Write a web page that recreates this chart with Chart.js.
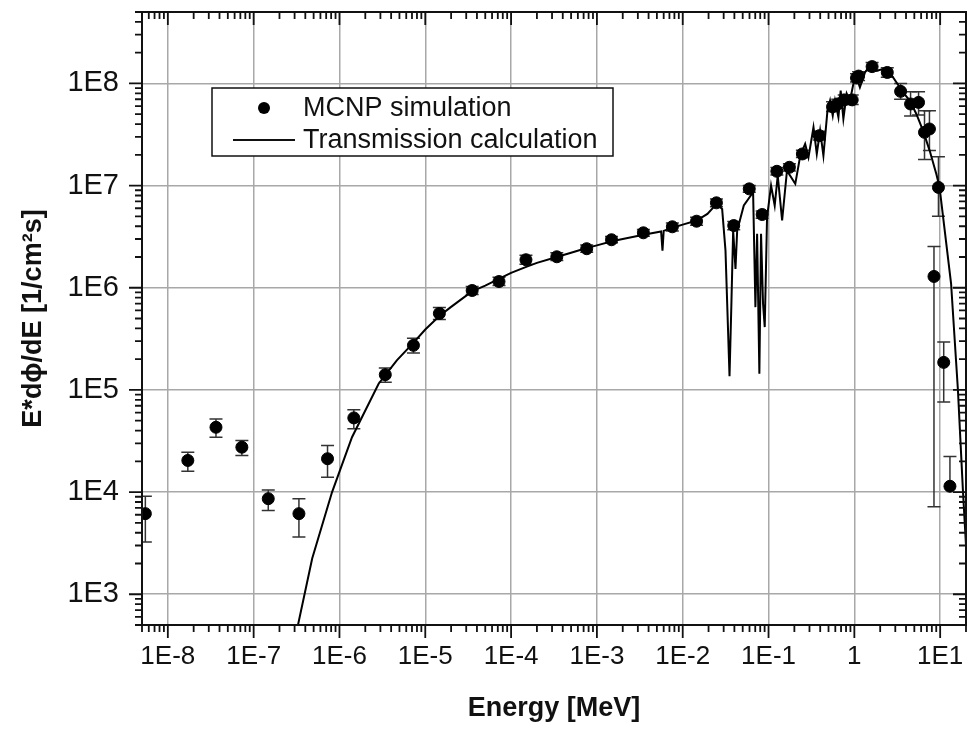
<!DOCTYPE html>
<html>
<head>
<meta charset="utf-8">
<script src="https://cdn.jsdelivr.net/npm/chart.js@4.4.0/dist/chart.umd.min.js"></script>
<style>
  body { margin: 0; background: #fff; }
  #wrap { width: 973px; height: 729px; }
</style>
</head>
<body>
<div id="wrap"><canvas id="chart" width="973" height="729"></canvas></div>
<script>
// MCNP simulation (energy in MeV, E*dphi/dE in 1/cm2s, error bar limits)
const mcnpEnergy = [5.47e-9, 1.71e-8, 3.64e-8, 7.29e-8, 1.48e-7, 3.37e-7, 7.26e-7, 1.47e-6, 3.42e-6,
  7.28e-6, 1.46e-5, 3.52e-5, 7.23e-5, 1.49e-4, 3.41e-4, 7.6e-4, 1.48e-3, 3.48e-3, 7.57e-3,
  1.45e-2, 2.47e-2, 3.93e-2, 5.96e-2, 8.43e-2, 0.125, 0.175, 0.248, 0.391, 0.557, 0.64, 0.762,
  0.944, 1.06, 1.12, 1.61, 2.42, 3.46, 4.52, 5.6, 6.57, 7.5, 8.47, 9.55, 11.0, 13.0];
const mcnpFlux = [6.15e3, 2.04e4, 4.31e4, 2.75e4, 8.62e3, 6.15e3, 2.12e4, 5.32e4, 1.41e5,
  2.73e5, 5.6e5, 9.4e5, 1.15e6, 1.88e6, 2.01e6, 2.41e6, 2.95e6, 3.45e6, 3.95e6,
  4.48e6, 6.78e6, 4.06e6, 9.29e6, 5.21e6, 1.38e7, 1.51e7, 2.04e7, 3.08e7, 5.9e7, 6.3e7, 6.9e7,
  6.9e7, 1.13e8, 1.18e8, 1.46e8, 1.28e8, 8.36e7, 6.29e7, 6.52e7, 3.32e7, 3.58e7, 1.29e6, 9.6e6, 1.86e5, 1.14e4];
const mcnpLow = [3.25e3, 1.6e4, 3.44e4, 2.28e4, 6.6e3, 3.64e3, 1.4e4, 4.16e4, 1.19e5,
  2.3e5, 4.9e5, 8.6e5, 1.05e6, 1.7e6, 1.85e6, 2.22e6, 2.75e6, 3.2e6, 3.6e6,
  4.1e6, 6.2e6, 3.7e6, 8.6e6, 4.8e6, 1.27e7, 1.39e7, 1.88e7, 2.8e7, 5.3e7, 5.7e7, 6.2e7,
  6.2e7, 1.03e8, 1.07e8, 1.33e8, 1.15e8, 7.0e7, 4.8e7, 4.9e7, 1.8e7, 2.2e7, 7.2e3, 5.0e6, 7.6e4, 1.14e4];
const mcnpHigh = [9.1e3, 2.46e4, 5.2e4, 3.19e4, 1.05e4, 8.6e3, 2.86e4, 6.4e4, 1.64e5,
  3.2e5, 6.4e5, 1.03e6, 1.27e6, 2.08e6, 2.2e6, 2.62e6, 3.18e6, 3.72e6, 4.3e6,
  4.9e6, 7.4e6, 4.45e6, 1.0e7, 5.65e6, 1.5e7, 1.64e7, 2.22e7, 3.4e7, 6.6e7, 7.0e7, 7.7e7,
  7.7e7, 1.24e8, 1.3e8, 1.6e8, 1.42e8, 1.0e8, 8.3e7, 8.3e7, 5.4e7, 5.4e7, 2.54e6, 1.92e7, 2.94e5, 2.23e4];

// Transmission calculation curve
const calcEnergy = [3.0e-7, 4.81e-7, 8.2e-7, 1.4e-6, 2.86e-6, 4.66e-6, 7.3e-6, 1e-5, 1.46e-5, 2e-5,
  3.5e-5, 5e-5, 7.2e-5, 1e-4, 1.5e-4, 2e-4, 3.4e-4, 5e-4, 7.6e-4, 1e-3, 1.5e-3, 2e-3, 3.5e-3,
  5.6e-3, 5.81e-3, 6.0e-3, 7.4e-3, 1.0e-2, 1.45e-2, 1.94e-2, 2.48e-2, 2.88e-2, 3.15e-2, 3.51e-2,
  3.7e-2, 3.87e-2, 4.12e-2, 4.31e-2, 5.15e-2, 6.61e-2, 7.03e-2, 7.36e-2, 7.82e-2, 8.18e-2,
  8.63e-2, 9.03e-2, 9.61e-2, 0.107, 0.118, 0.128, 0.144, 0.164, 0.205, 0.234, 0.267, 0.292,
  0.334, 0.365, 0.399, 0.436, 0.486, 0.521, 0.56, 0.595, 0.652, 0.693, 0.745, 0.814, 0.889,
  0.973, 1.06, 1.16, 1.33, 1.52, 1.66, 1.81, 2.17, 2.59, 3.1, 3.7, 4.42, 5.28, 6.31, 7.54,
  9.02, 9.84, 13.4, 16.1, 18.4, 20];
const calcFlux = [350, 2.24e3, 1.0e4, 3.44e4, 1.15e5, 1.95e5, 2.9e5, 3.9e5, 5.3e5, 6.5e5,
  9.2e5, 1.05e6, 1.22e6, 1.4e6, 1.6e6, 1.75e6, 2.0e6, 2.2e6, 2.45e6, 2.6e6, 2.85e6, 3.0e6, 3.3e6,
  3.55e6, 2.31e6, 3.6e6, 3.85e6, 4.15e6, 4.55e6, 5.28e6, 6.62e6, 5.91e6, 2.32e6, 1.36e5,
  7.52e5, 3.63e6, 1.53e6, 3.63e6, 6.38e6, 8.6e6, 6.46e5, 3.37e6, 1.44e5, 3.37e6,
  6.98e5, 4.12e5, 4.9e6, 1.0e7, 6.38e6, 1.25e7, 4.55e6, 1.4e7, 1.04e7, 1.96e7, 2.56e7, 1.89e7,
  3.72e7, 2.04e7, 3.45e7, 1.96e7, 5.41e7, 6.78e7, 4.83e7, 6.78e7, 4.66e7, 8.49e7, 4.49e7, 7.94e7, 6.78e7,
  9.86e7, 1.15e8, 9.14e7, 1.28e8, 1.49e8, 1.6e8, 1.33e8, 1.38e8, 1.28e8, 1.02e8, 8.17e7, 6.78e7, 5.02e7, 3.45e7, 2.2e7,
  1.3e7, 9.6e6, 1.1e6, 1.0e5, 1.05e4, 3.0e3];

const xMin = 5e-9, xMax = 20;
const yMin = 500, yMax = 5e8;

const FONT = '"Liberation Sans", Arial, sans-serif';

// log ticks at every 1..9 x 10^n, labels only at decades
function logTicks(scale) {
  const ticks = [];
  const lo = Math.floor(Math.log10(scale.min));
  const hi = Math.ceil(Math.log10(scale.max));
  for (let e = lo; e <= hi; e++) {
    for (let m = 1; m <= 9; m++) {
      const v = Number(m + 'e' + e);
      if (v >= scale.min && v <= scale.max) ticks.push({ value: v, major: m === 1 });
    }
  }
  scale.ticks = ticks;
}

function decadeLabel(value, index, ticks) {
  if (!ticks[index].major) return '';
  const e = Math.round(Math.log10(value));
  return e === 0 ? '1' : '1E' + e;
}

// keep the plot box fixed: no extra room for edge labels
function fixBox(size, horizontal) {
  return (s) => {
    if (horizontal) s.height = size; else s.width = size;
    s.paddingTop = 0; s.paddingBottom = 0; s.paddingLeft = 0; s.paddingRight = 0;
  };
}

const gridColor = (ctx) => (ctx.tick && ctx.tick.major) ? '#a8a8a8' : 'rgba(0,0,0,0)';

const framePlugin = {
  id: 'frame',
  beforeDatasetsDraw(chart) {
    // error bars under the dots
    const { ctx, chartArea: a, scales: { x, y } } = chart;
    ctx.save();
    ctx.beginPath();
    ctx.rect(a.left, a.top, a.right - a.left, a.bottom - a.top);
    ctx.clip();
    ctx.strokeStyle = '#333';
    ctx.lineWidth = 1.5;
    for (let i = 0; i < mcnpEnergy.length; i++) {
      const px = x.getPixelForValue(mcnpEnergy[i]);
      const yl = y.getPixelForValue(mcnpLow[i]);
      const yh = y.getPixelForValue(mcnpHigh[i]);
      ctx.beginPath();
      ctx.moveTo(px, yl); ctx.lineTo(px, yh);
      ctx.moveTo(px - 6.5, yh); ctx.lineTo(px + 6.5, yh);
      if (mcnpLow[i] < mcnpFlux[i]) { ctx.moveTo(px - 6.5, yl); ctx.lineTo(px + 6.5, yl); }
      ctx.stroke();
    }
    ctx.restore();
  },
  afterDraw(chart) {
    const { ctx, chartArea: a, scales: { x, y } } = chart;
    ctx.save();
    ctx.strokeStyle = '#111';
    ctx.lineWidth = 2;
    ctx.strokeRect(a.left, a.top, a.right - a.left, a.bottom - a.top);
    ctx.lineWidth = 1.8;
    ctx.beginPath();
    x.ticks.forEach(t => {
      const px = x.getPixelForValue(t.value);
      const len = t.major ? 13 : 7;
      ctx.moveTo(px, a.bottom); ctx.lineTo(px, a.bottom + len);
      ctx.moveTo(px, a.top); ctx.lineTo(px, a.top + len);
    });
    y.ticks.forEach(t => {
      const py = y.getPixelForValue(t.value);
      const len = t.major ? 13 : 7;
      ctx.moveTo(a.left - len, py); ctx.lineTo(a.left, py);
      ctx.moveTo(a.right - len, py); ctx.lineTo(a.right, py);
    });
    ctx.stroke();

    // legend box
    ctx.fillStyle = '#fff';
    ctx.fillRect(212, 88, 401, 68);
    ctx.lineWidth = 1.5;
    ctx.strokeStyle = '#111';
    ctx.strokeRect(212, 88, 401, 68);
    ctx.fillStyle = '#000';
    ctx.beginPath();
    ctx.arc(264, 108, 6, 0, Math.PI * 2);
    ctx.fill();
    ctx.lineWidth = 2;
    ctx.beginPath();
    ctx.moveTo(233, 140); ctx.lineTo(295, 140);
    ctx.stroke();
    ctx.fillStyle = '#111';
    ctx.font = '27px ' + FONT;
    ctx.textBaseline = 'middle';
    ctx.textAlign = 'left';
    ctx.fillText('MCNP simulation', 303, 109);
    ctx.fillText('Transmission calculation', 303, 141);
    ctx.restore();
  }
};

const chart = new Chart(document.getElementById('chart'), {
  type: 'scatter',
  data: {
    datasets: [
      {
        label: 'MCNP simulation',
        data: mcnpEnergy.map((e, i) => ({ x: e, y: mcnpFlux[i] })),
        backgroundColor: '#000',
        borderColor: '#000',
        pointRadius: 6,
        order: 1
      },
      {
        label: 'Transmission calculation',
        data: calcEnergy.map((e, i) => ({ x: e, y: calcFlux[i] })),
        showLine: true,
        borderColor: '#000',
        borderWidth: 2,
        pointRadius: 0,
        tension: 0,
        order: 2
      }
    ]
  },
  options: {
    responsive: false,
    animation: false,
    events: [],
    layout: { padding: { left: 0, top: 12, right: 3, bottom: 0 } },
    plugins: { legend: { display: false }, tooltip: { enabled: false } },
    scales: {
      x: {
        type: 'logarithmic',
        min: xMin,
        max: xMax,
        afterBuildTicks: logTicks,
        afterFit: fixBox(104, true),
        grid: { color: gridColor, lineWidth: 1.5, drawTicks: false },
        border: { display: false },
        ticks: {
          callback: decadeLabel,
          autoSkip: false,
          maxRotation: 0,
          padding: 16,
          color: '#111',
          font: { family: FONT, size: 26 }
        },
        title: {
          display: true,
          text: 'Energy [MeV]',
          color: '#111',
          padding: { top: 0, bottom: 4 },
          font: { family: FONT, size: 27, weight: 'bold' }
        }
      },
      y: {
        type: 'logarithmic',
        min: yMin,
        max: yMax,
        afterBuildTicks: logTicks,
        afterFit: fixBox(142, false),
        grid: { color: gridColor, lineWidth: 1.5, drawTicks: false },
        border: { display: false },
        ticks: {
          callback: decadeLabel,
          autoSkip: false,
          padding: 23,
          color: '#111',
          font: { family: FONT, size: 29 }
        },
        title: {
          display: true,
          text: 'E*d\u0278/dE [1/cm\u00B2s]',
          color: '#111',
          padding: { top: 17, bottom: 0 },
          font: { family: FONT, size: 27, weight: 'bold' }
        }
      }
    }
  },
  plugins: [framePlugin]
});
</script>
</body>
</html>
